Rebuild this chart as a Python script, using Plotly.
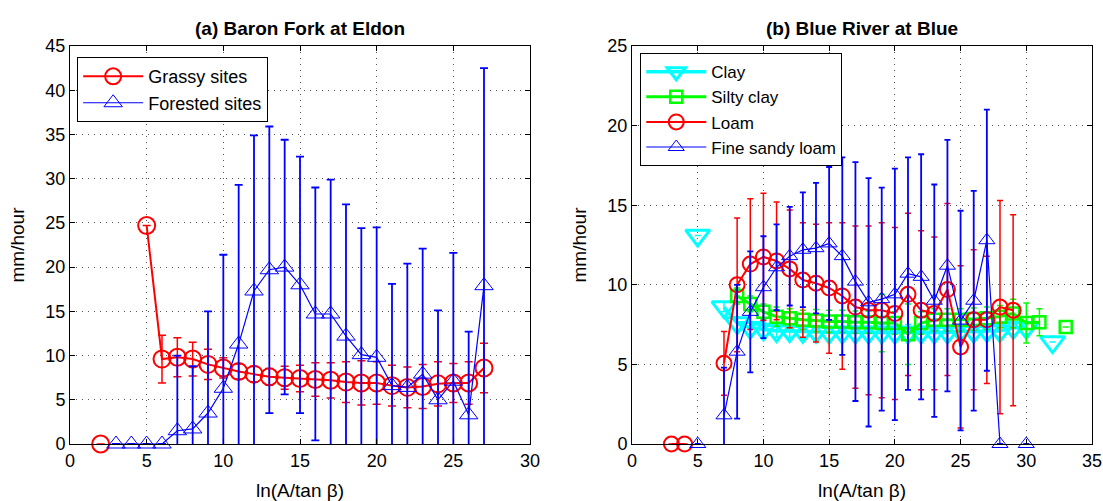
import plotly.graph_objects as go
from plotly.subplots import make_subplots

# ---------------- Panel (a) Baron Fork at Eldon ----------------
a_x_grassy = [2, 3, 4, 5, 6, 7, 8, 9, 10, 11, 12, 13, 14, 15, 16, 17, 18, 19, 20, 21, 22, 23, 24, 25, 26, 27]
a_y_grassy = [0, None, None, 24.7, 9.6, 9.8, 9.6, 9.0, 8.6, 8.2, 7.9, 7.6, 7.5, 7.4, 7.3, 7.2, 7.0, 6.9, 6.9,
              6.6, 6.4, 6.5, 6.8, 6.9, 6.9, 8.6]
a_e_grassy = [None, None, None, 0, 2.7, 2.2, 1.9, 1.7, 1.15, 0.85, 0.85, 0.95, 1.3, 1.5, 1.9, 2.0, 2.3, 2.5, 2.4,
              2.3, 2.3, 2.5, 2.5, 2.2, 2.4, 2.8]

a_x_forest = [3, 4, 5, 6, 7, 8, 9, 10, 11, 12, 13, 14, 15, 16, 17, 18, 19, 20, 21, 22, 23, 24, 25, 26, 27]
a_y_forest = [0, 0, 0, 0, 1.5, 1.7, 3.5, 6.3, 11.3, 17.3, 19.7, 20.0, 18.0, 14.7, 14.7, 12.2, 10.1, 9.8,
              6.6, 6.4, 7.9, 5.0, 7.1, 3.3, 17.9]
a_e_forest = [None, None, None, None, 8.5, 7.1, 11.5, 15.1, 18.0, 17.6, 16.2, 14.4, 14.5, 14.3, 15.2, 14.9, 14.3,
              14.7, 11.5, 14.0, 14.2, 10.1, 14.5, 9.4, 24.6]

# ---------------- Panel (b) Blue River at Blue ----------------
b_x_clay = [5, 6, 7, 8, 9, 10, 11, 12, 13, 14, 15, 16, 17, 18, 19, 20, 21, 22, 23, 24, 25, 26, 27, 28, 29, 30, 31, 32]
b_y_clay = [13.1, None, 8.6, 7.6, 7.3, 7.2, 7.1, 7.1, 7.05, 7.05, 7.0, 7.0, 7.0, 7.0, 7.0, 7.0, 7.0, 7.0, 7.0,
            7.0, 7.1, 7.05, 7.1, 7.1, 7.3, 7.3, None, 6.4]
b_e_clay = [None, None, 0.3, 0.4, 0.4, 0.4, 0.4, 0.4, 0.4, 0.4, 0.4, 0.4, 0.4, 0.4, 0.5, 0.4, 0.5, 0.4, 0.4,
            0.4, 0.4, 0.4, 0.4, 0.4, 0.4, 0.4, None, None]

b_x_silty = [8, 9, 10, 11, 12, 13, 14, 15, 16, 17, 18, 19, 20, 21, 22, 23, 24, 25, 26, 27, 28, 29, 30, 31, 32, 33]
b_y_silty = [9.3, 8.8, 8.3, 8.0, 7.9, 7.8, 7.75, 7.7, 7.7, 7.65, 7.65, 7.6, 7.6, 6.9, 7.6, 7.8, 7.8, 7.8, 7.85,
             7.9, 8.0, 8.2, 7.6, 7.65, None, 7.35]
b_e_silty = [0.5, 0.5, 0.5, 0.6, 0.6, 0.6, 0.7, 0.7, 0.7, 0.7, 0.7, 1.8, 0.7, 1.9, 0.7, 0.7, 0.7, 0.7, 0.7,
             0.7, 0.7, 0.9, 1.25, 0.85, None, None]

b_x_loam = [3, 4, 5, 6, 7, 8, 9, 10, 11, 12, 13, 14, 15, 16, 17, 18, 19, 20, 21, 22, 23, 24, 25, 26, 27, 28, 29]
b_y_loam = [0, 0, None, None, 5.07, 10.0, 11.3, 11.75, 11.5, 11.0, 10.3, 10.1, 9.8, 9.3, 8.6, 8.4, 8.4, 8.2,
            9.4, 8.4, 8.2, 9.7, 6.1, 7.8, 7.8, 8.6, 8.4]
b_e_loam = [None, None, None, None, 2.0, 4.2, 4.1, 4.0, 3.7, 3.7, 3.6, 3.7, 4.1, 4.6, 5.1, 5.3, 5.5, 5.4,
            5.1, 5.0, 4.8, 5.4, 5.1, 4.4, 4.0, 6.7, 6.0]

b_x_fsl = [5, 6, 7, 8, 9, 10, 11, 12, 13, 14, 15, 16, 17, 18, 19, 20, 21, 22, 23, 24, 25, 26, 27, 28, 29, 30]
b_y_fsl = [0, None, 1.8, 5.8, 8.3, 9.85, 11.1, 11.8, 12.2, 12.3, 12.6, 11.8, 10.2, 8.9, 9.1, 9.4, 10.7, 10.5,
           9.0, 11.2, 7.75, 9.0, 12.8, 0, None, 0]
b_e_fsl = [None, None, 3.0, 4.2, 3.8, 3.2, 2.7, 3.1, 3.6, 4.1, 4.8, 6.2, 7.5, 7.8, 7.0, 7.9, 7.3, 7.7,
           7.3, 7.9, 6.9, 6.9, 8.2, None, None, None]

a_xticks = [0, 5, 10, 15, 20, 25, 30]
a_yticks = [0, 5, 10, 15, 20, 25, 30, 35, 40, 45]
b_xticks = [0, 5, 10, 15, 20, 25, 30, 35]
b_yticks = [0, 5, 10, 15, 20, 25]

FONT = "Liberation Sans, Arial, Helvetica, sans-serif"

fig = make_subplots(rows=1, cols=2, horizontal_spacing=0.0998)


def add_series(x, y, e, name, color, lw, symbol, msize, mlw, col, legend, ethick, ewidth):
    # error bars (clipped to axes)
    fig.add_trace(go.Scatter(
        x=x, y=y, mode="markers", showlegend=False, hoverinfo="skip",
        marker=dict(size=1, color="rgba(0,0,0,0)"),
        error_y=dict(type="data", array=e, visible=True, color=color, thickness=ethick, width=ewidth),
        cliponaxis=True), row=1, col=col)
    # line + markers (markers not clipped)
    fig.add_trace(go.Scatter(
        x=x, y=y, mode="lines+markers", name=name, legend=legend,
        line=dict(color=color, width=lw),
        marker=dict(symbol=symbol, size=msize, color=color,
                    line=dict(color=color, width=mlw)),
        connectgaps=False, cliponaxis=False), row=1, col=col)


add_series(a_x_grassy, a_y_grassy, a_e_grassy, "Grassy sites", "#ff0000", 2, "circle-open", 17, 2,
           1, "legend", 1.5, 4)
add_series(a_x_forest, a_y_forest, a_e_forest, "Forested sites", "#0000ff", 1.2, "triangle-up-open", 16, 1,
           1, "legend", 1.8, 4)

add_series(b_x_clay, b_y_clay, b_e_clay, "Clay", "#00ffff", 3.5, "triangle-down-open", 21, 3,
           2, "legend2", 1.5, 3)
add_series(b_x_silty, b_y_silty, b_e_silty, "Silty clay", "#00ff00", 3, "square-open", 12, 2.5,
           2, "legend2", 1.5, 3)
add_series(b_x_loam, b_y_loam, b_e_loam, "Loam", "#ff0000", 2, "circle-open", 15, 2,
           2, "legend2", 1.5, 3)
add_series(b_x_fsl, b_y_fsl, b_e_fsl, "Fine sandy loam", "#0000ff", 1.2, "triangle-up-open", 14, 1,
           2, "legend2", 1.8, 3)

axis_common = dict(showline=True, linecolor="black", linewidth=1, mirror="ticks",
                   ticks="inside", ticklen=5, tickcolor="black", tickwidth=1, automargin=False,
                   showgrid=True, gridcolor="#555555", gridwidth=1, griddash="1px,5px",
                   zeroline=False, tickfont=dict(family=FONT, size=18, color="black"))

fig.update_xaxes(range=[0, 30], tickvals=a_xticks, row=1, col=1, **axis_common)
fig.update_yaxes(range=[0, 45], tickvals=a_yticks, row=1, col=1, **axis_common)
fig.update_xaxes(range=[0, 35], tickvals=b_xticks, row=1, col=2, **axis_common)
fig.update_yaxes(range=[0, 25], tickvals=b_yticks, row=1, col=2, **axis_common)

for c in (1, 2):
    fig.update_xaxes(title=dict(text="ln(A/tan β)", font=dict(family=FONT, size=19, color="black"), standoff=14),
                     row=1, col=c)
    fig.update_yaxes(title=dict(text="mm/hour", font=dict(family=FONT, size=19, color="black"), standoff=15),
                     row=1, col=c)

fig.add_annotation(text="<b>(a) Baron Fork at Eldon</b>", x=0.225, y=1.045, xref="paper", yref="paper",
                   xanchor="center", showarrow=False, font=dict(family=FONT, size=19, color="black"),
                   yanchor="middle")
fig.add_annotation(text="<b>(b) Blue River at Blue</b>", x=0.775, y=1.045, xref="paper", yref="paper",
                   xanchor="center", showarrow=False, font=dict(family=FONT, size=19, color="black"),
                   yanchor="middle")

leg_common = dict(bgcolor="white", bordercolor="black", borderwidth=1,
                  xanchor="left", yanchor="top", tracegroupgap=0, itemwidth=60)

fig.update_layout(
    width=1103, height=501,
    margin=dict(l=70, r=11, t=46, b=57),
    paper_bgcolor="white", plot_bgcolor="white",
    showlegend=True,
    legend=dict(x=0.007, y=0.972, font=dict(family=FONT, size=18, color="black"), **leg_common),
    legend2=dict(x=0.558, y=0.982, font=dict(family=FONT, size=17, color="black"), **leg_common),
)

fig.write_html("out.html")
